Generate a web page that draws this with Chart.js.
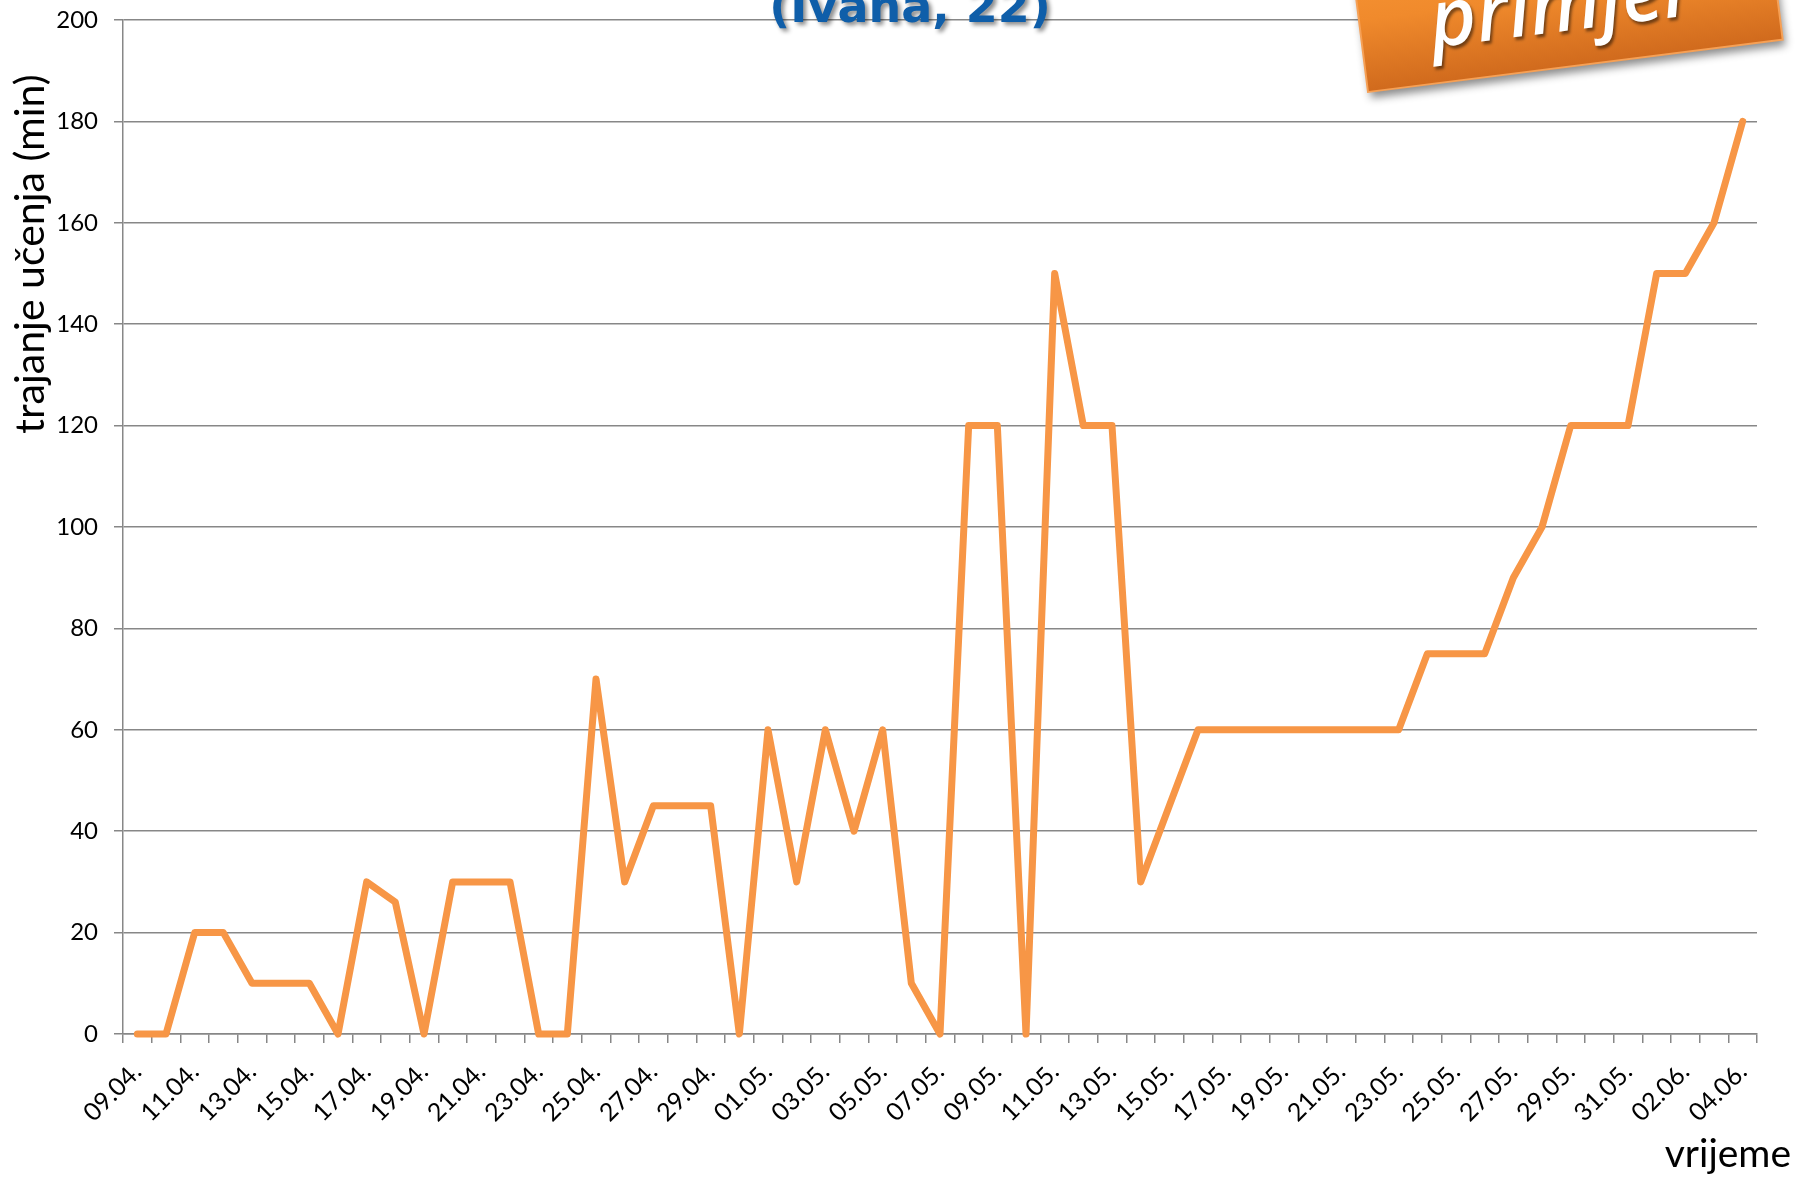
<!DOCTYPE html>
<html>
<head>
<meta charset="utf-8">
<script src="https://cdn.jsdelivr.net/npm/chart.js@4.4.1/dist/chart.umd.min.js"></script>
<style>
  html, body { margin: 0; padding: 0; background: #fff; }
  #wrap { width: 1795px; height: 1177px; position: relative; }
</style>
</head>
<body>
<div id="wrap"><canvas id="myChart"></canvas></div>
<script>
// Days (dd.mm.) from 09.04. to 04.06.
const days = [
  '09.04.', '10.04.', '11.04.', '12.04.', '13.04.', '14.04.', '15.04.', '16.04.',
  '17.04.', '18.04.', '19.04.', '20.04.', '21.04.', '22.04.', '23.04.', '24.04.',
  '25.04.', '26.04.', '27.04.', '28.04.', '29.04.', '30.04.',
  '01.05.', '02.05.', '03.05.', '04.05.', '05.05.', '06.05.', '07.05.', '08.05.',
  '09.05.', '10.05.', '11.05.', '12.05.', '13.05.', '14.05.', '15.05.', '16.05.',
  '17.05.', '18.05.', '19.05.', '20.05.', '21.05.', '22.05.', '23.05.', '24.05.',
  '25.05.', '26.05.', '27.05.', '28.05.', '29.05.', '30.05.', '31.05.',
  '01.06.', '02.06.', '03.06.', '04.06.'
];

// Minutes of study per day
const minutes = [
  0, 0, 20, 20, 10, 10, 10, 0,
  30, 26, 0, 30, 30, 30, 0, 0,
  70, 30, 45, 45, 45, 0,
  60, 30, 60, 40, 60, 10, 0, 120,
  120, 0, 150, 120, 120, 30, 45, 60,
  60, 60, 60, 60, 60, 60, 60, 75,
  75, 75, 90, 100, 120, 120, 120,
  150, 150, 160, 180
];

// Y axis range
const yMin = 0;
const yMax = 200;
const yStep = 20;

const yTitle = 'trajanje učenja (min)';
const xTitle = 'vrijeme';
const chartTitle = '(Ivana, 22)';
const badgeText = 'primjer';

const FONT = 'Lato, "Open Sans", sans-serif';
const GRID = '#878787';

// Extra texts and the badge, drawn on top of the chart
const extras = {
  id: 'extras',
  afterDraw(chart) {
    const ctx = chart.ctx;

    // y title
    ctx.save();
    ctx.fillStyle = '#000';
    ctx.font = '41px ' + FONT;
    ctx.textAlign = 'center';
    ctx.textBaseline = 'alphabetic';
    ctx.translate(44, 254);
    ctx.rotate(-Math.PI / 2);
    ctx.fillText(yTitle, 0, 0);
    ctx.restore();

    // x title
    ctx.save();
    ctx.fillStyle = '#000';
    ctx.font = '39px ' + FONT;
    ctx.textAlign = 'right';
    ctx.textBaseline = 'alphabetic';
    ctx.fillText(xTitle, 1791, 1167);
    ctx.restore();

    // title (only the bottom line shows)
    ctx.save();
    ctx.font = 'bold 46px "DejaVu Sans", sans-serif';
    ctx.textAlign = 'center';
    ctx.textBaseline = 'alphabetic';
    ctx.shadowColor = 'rgba(0,0,0,0.45)';
    ctx.shadowOffsetX = 3;
    ctx.shadowOffsetY = 3;
    ctx.shadowBlur = 4;
    ctx.fillStyle = '#0f5ea9';
    ctx.fillText(chartTitle, 910, 22);
    ctx.restore();

    // badge
    ctx.save();
    ctx.translate(1368, 92);
    ctx.rotate(-7.2 * Math.PI / 180);
    const w = 418, h = 160;
    const grad = ctx.createLinearGradient(0, -h, 0, 0);
    grad.addColorStop(0, '#fb9a38');
    grad.addColorStop(0.55, '#f08a2c');
    grad.addColorStop(1, '#d06a1d');
    ctx.shadowColor = 'rgba(0,0,0,0.45)';
    ctx.shadowOffsetX = 3;
    ctx.shadowOffsetY = 6;
    ctx.shadowBlur = 8;
    ctx.fillStyle = grad;
    ctx.fillRect(0, -h, w, h);
    ctx.shadowColor = 'transparent';
    ctx.strokeStyle = '#f6a055';
    ctx.lineWidth = 2;
    ctx.strokeRect(0, -h, w, h);
    ctx.font = 'italic 500 80px "Noto Sans", sans-serif';
    ctx.textAlign = 'left';
    ctx.textBaseline = 'alphabetic';
    ctx.shadowColor = 'rgba(0,0,0,0.5)';
    ctx.shadowOffsetX = 2;
    ctx.shadowOffsetY = 3;
    ctx.shadowBlur = 3;
    ctx.fillStyle = '#fff';
    ctx.fillText(badgeText, 70, -36);
    ctx.restore();
  }
};

const data = {
  labels: days,
  datasets: [{
    label: 'trajanje',
    data: minutes,
    borderColor: '#f79646',
    backgroundColor: '#f79646',
    borderWidth: 7,
    borderJoinStyle: 'round',
    borderCapStyle: 'round',
    pointRadius: 0,
    tension: 0,
    clip: false
  }]
};

const config = {
  type: 'line',
  data: data,
  options: {
    responsive: false,
    animation: false,
    layout: { padding: { left: 0, top: 20, right: 38, bottom: 0 } },
    plugins: {
      legend: { display: false },
      tooltip: { enabled: false }
    },
    scales: {
      x: {
        offset: true,
        grid: {
          offset: true,
          drawOnChartArea: false,
          drawTicks: true,
          tickLength: 9,
          color: GRID,
          lineWidth: 1.5
        },
        border: { color: GRID, width: 1.5 },
        ticks: {
          autoSkip: false,
          maxRotation: 45,
          minRotation: 45,
          color: '#000',
          font: { family: FONT, size: 25 },
          padding: 14,
          callback: function (value, index) {
            return index % 2 === 0 ? this.getLabelForValue(value) : '';
          }
        },
        afterFit(scale) {
          scale.height = 1177 - 1034;
          scale.paddingLeft = 0;
          scale.paddingRight = 0;
        }
      },
      y: {
        min: yMin,
        max: yMax,
        ticks: {
          stepSize: yStep,
          color: '#000',
          font: { family: FONT, size: 24 },
          padding: 16
        },
        grid: {
          color: GRID,
          lineWidth: 1.5,
          tickLength: 9
        },
        border: { color: GRID, width: 1.5 },
        afterFit(scale) {
          scale.width = 123;
          scale.paddingTop = 0;
          scale.paddingBottom = 0;
        }
      }
    }
  },
  plugins: [extras]
};

const canvas = document.getElementById('myChart');
canvas.width = 1795;
canvas.height = 1177;
const theChart = new Chart(canvas.getContext('2d'), config);
</script>
</body>
</html>
